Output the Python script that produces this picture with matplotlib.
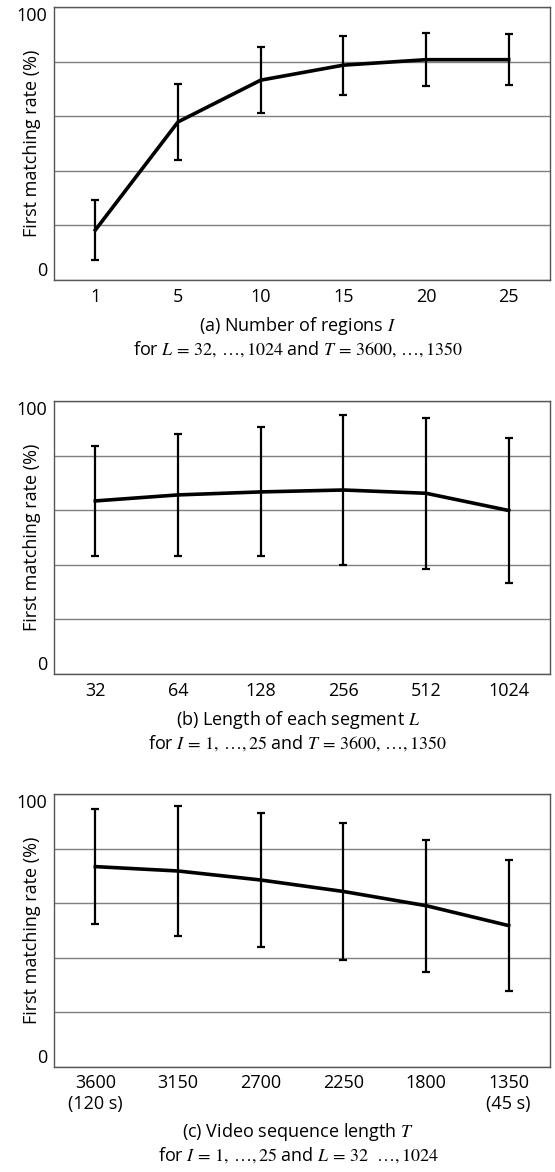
import matplotlib
matplotlib.use('Agg')
import matplotlib.pyplot as plt
from matplotlib.transforms import ScaledTranslation

plt.rcParams['font.family'] = ['Open Sans', 'DejaVu Sans']
plt.rcParams['mathtext.fontset'] = 'stix'
plt.rcParams['font.size'] = 13

# (a) number of regions I
regions = ['1', '5', '10', '15', '20', '25']
regions_rate = [18.3, 57.9, 73.2, 78.7, 80.7, 80.7]
regions_err = [11.0, 14.0, 12.0, 10.8, 9.7, 9.3]

# (b) segment length L
segments = ['32', '64', '128', '256', '512', '1024']
segments_rate = [63.4, 65.6, 66.7, 67.4, 66.2, 59.9]
segments_err = [20.1, 22.3, 23.6, 27.6, 27.7, 26.6]

# (c) video sequence length T
lengths = ['3600\n(120 s)', '3150', '2700', '2250', '1800', '1350\n(45 s)']
lengths_rate = [73.4, 71.8, 68.5, 64.3, 59.1, 51.8]
lengths_err = [21.1, 23.7, 24.5, 25.0, 24.2, 24.1]

captions = [
    ('(a) Number of regions $I$',
     'for $L\\,=\\,32,\\,\\ldots,1024$ and $T\\,=\\,3600,\\,\\ldots,1350$'),
    ('(b) Length of each segment $L$',
     'for $I\\,=\\,1,\\,\\ldots,25$ and $T\\,=\\,3600,\\,\\ldots,1350$'),
    ('(c) Video sequence length $T$',
     'for $I\\,=\\,1,\\,\\ldots,25$ and $L\\,=\\,32\\ \\ \\ldots,1024$'),
]

W, H = 555, 1172
fig = plt.figure(figsize=(W / 100, H / 100), dpi=100)

panels = [
    (regions, regions_rate, regions_err, 280),
    (segments, segments_rate, segments_err, 674),
    (lengths, lengths_rate, lengths_err, 1067),
]

for i, (labels, rate, err, bottom_px) in enumerate(panels):
    ax = fig.add_axes([54 / W, 1 - bottom_px / H, 496 / W, 273 / H])
    x = list(range(len(labels)))
    ax.errorbar(x, rate, yerr=err, color='black', lw=2.6,
                elinewidth=1.6, capsize=3, capthick=1.6, zorder=3)
    ax.set_xlim(-0.5, len(labels) - 0.5)
    ax.set_ylim(0, 100)
    ax.set_yticks([0, 20, 40, 60, 80, 100])
    ax.set_yticklabels(['0', '', '', '', '', '100'])
    yl = ax.get_yticklabels()
    yl[0].set_va('bottom')
    yl[-1].set_va('top')
    yl[-1].set_transform(yl[-1].get_transform() +
                         ScaledTranslation(0, -2 / 100, fig.dpi_scale_trans))
    ax.set_xticks(x)
    ax.set_xticklabels(labels)
    ax.tick_params(length=0, pad=5)
    ax.tick_params(axis='x', pad=6)
    if i == 2:
        for lab in ax.get_xticklabels():
            if '\n' not in lab.get_text():
                lab.set_transform(lab.get_transform() +
                                  ScaledTranslation(0, -5 / 100, fig.dpi_scale_trans))
        ax.tick_params(axis='x', pad=5)
    ax.yaxis.grid(True, color='#7f7f7f', lw=1)
    ax.set_axisbelow(True)
    for s in ax.spines.values():
        s.set_color('#555555')
        s.set_linewidth(1)
    ax.set_ylabel('First matching rate (%)')
    ax.yaxis.set_label_coords(-0.026, 0.5)

    cap_y = bottom_px + (46 if i < 2 else 65)
    fig.text(298 / W, 1 - cap_y / H, captions[i][0], ha='center', va='center')
    fig.text(298 / W, 1 - (cap_y + 23) / H, captions[i][1], ha='center', va='center')

fig.savefig('out.png', dpi=100)
